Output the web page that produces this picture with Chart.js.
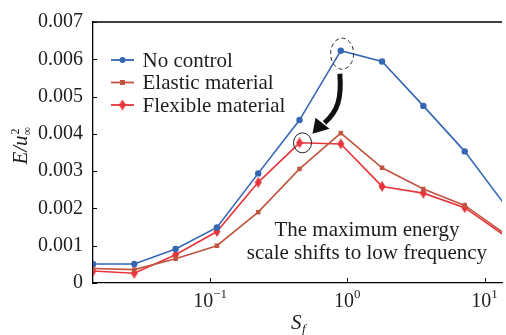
<!DOCTYPE html>
<html>
<head>
<meta charset="utf-8">
<script src="https://cdn.jsdelivr.net/npm/chart.js@4/dist/chart.umd.min.js"></script>
<style>
  html, body { margin: 0; padding: 0; background: #fff; }
  canvas { display: block; }
</style>
</head>
<body>
<canvas id="c" width="506" height="335"></canvas>
<script>
// Strouhal number of the forcing frequency
const sf = [0.014, 0.028, 0.056, 0.112, 0.224, 0.448, 0.896, 1.79, 3.58, 7.17, 14.3];
// Energy E/u_inf^2 for each case
const noControl = [0.00051, 0.00051, 0.00091, 0.00149, 0.00294, 0.00437, 0.00623, 0.00594, 0.00475, 0.00353, 0.00206];
const elastic   = [0.00039, 0.00036, 0.00065, 0.00100, 0.00190, 0.00306, 0.00402, 0.00309, 0.00252, 0.00208, 0.00130];
const flexible  = [0.00032, 0.00026, 0.00076, 0.00138, 0.00270, 0.00376, 0.00373, 0.00259, 0.00241, 0.00202, 0.00125];

const seriesNames = ['No control', 'Elastic material', 'Flexible material'];
const xTickValues = [0.1, 1, 10];
const xTickExponents = ['\u22121', '0', '1'];
const yTickValues = [0, 0.001, 0.002, 0.003, 0.004, 0.005, 0.006, 0.007];
const noteLines = ['The maximum energy', 'scale shifts to low frequency'];

const BLUE = '#3466b3', BROWN = '#c1543f', RED = '#e6363c';
const SERIF = '"Liberation Serif", "Times New Roman", serif';
const INK = '#1e1e1e';

// thin vertical diamond marker
function thinDiamond(color) {
  const cv = document.createElement('canvas');
  cv.width = 8; cv.height = 11;
  const g = cv.getContext('2d');
  g.fillStyle = color;
  g.beginPath();
  g.moveTo(4, 0); g.lineTo(7.5, 5.5); g.lineTo(4, 11); g.lineTo(0.5, 5.5);
  g.closePath(); g.fill();
  return cv;
}
const flexMarker = thinDiamond(RED);

const pts = arr => sf.map((x, i) => ({ x, y: arr[i] }));

const decor = {
  id: 'decor',
  afterDraw(chart) {
    const { ctx, chartArea: a, scales: { x, y } } = chart;
    ctx.save();
    // top frame line
    ctx.strokeStyle = '#000';
    ctx.lineWidth = 1.3;
    ctx.beginPath(); ctx.moveTo(a.left, a.top); ctx.lineTo(a.right, a.top); ctx.stroke();

    // inward ticks
    ctx.lineWidth = 1;
    ctx.beginPath();
    yTickValues.forEach(v => { const py = Math.round(y.getPixelForValue(v)) + 0.5; ctx.moveTo(a.left, py); ctx.lineTo(a.left + 4, py); });
    xTickValues.forEach(v => { const px = Math.round(x.getPixelForValue(v)) + 0.5; ctx.moveTo(px, a.bottom); ctx.lineTo(px, a.bottom - 5); });
    ctx.stroke();

    // x tick labels 10^n
    ctx.fillStyle = INK;
    ctx.textBaseline = 'alphabetic';
    xTickValues.forEach((v, i) => {
      const px = x.getPixelForValue(v);
      ctx.font = '20px ' + SERIF;
      const wb = ctx.measureText('10').width;
      ctx.font = '13px ' + SERIF;
      const we = ctx.measureText(xTickExponents[i]).width;
      const left = px - (wb + we) / 2;
      ctx.font = '20px ' + SERIF;
      ctx.textAlign = 'left';
      ctx.fillText('10', left, 307);
      ctx.font = '13px ' + SERIF;
      ctx.fillText(xTickExponents[i], left + wb, 298);
    });

    // x axis title S_f
    ctx.font = 'italic 21px ' + SERIF;
    ctx.textAlign = 'left';
    ctx.fillText('S', 291, 329);
    ctx.font = 'italic 13px ' + SERIF;
    ctx.fillText('f', 302, 333);

    // y axis title E/u_inf^2
    ctx.save();
    ctx.translate(27, 146);
    ctx.rotate(-Math.PI / 2);
    ctx.font = 'italic 21px ' + SERIF;
    const main = 'E/u';
    const wm = ctx.measureText(main).width;
    const x0 = -(wm + 8) / 2;
    ctx.fillText(main, x0, 0);
    ctx.font = '12px ' + SERIF;
    ctx.fillText('2', x0 + wm + 1, -8);
    ctx.fillText('\u221e', x0 + wm, 4);
    ctx.restore();

    // legend
    const rows = [
      { name: seriesNames[0], color: BLUE, mark: 'circle' },
      { name: seriesNames[1], color: BROWN, mark: 'square' },
      { name: seriesNames[2], color: RED, mark: 'diamond' }
    ];
    rows.forEach((r, i) => {
      const cy = 60 + i * 22.5;
      ctx.strokeStyle = r.color; ctx.fillStyle = r.color; ctx.lineWidth = 1.8;
      ctx.beginPath(); ctx.moveTo(111, cy); ctx.lineTo(134, cy); ctx.stroke();
      if (r.mark === 'circle') { ctx.beginPath(); ctx.arc(122.5, cy, 3, 0, Math.PI * 2); ctx.fill(); }
      else if (r.mark === 'square') { ctx.fillRect(120, cy - 2.5, 5, 5); }
      else { ctx.drawImage(flexMarker, 118.5, cy - 5.5); }
      ctx.fillStyle = INK;
      ctx.font = '21px ' + SERIF;
      ctx.textAlign = 'left'; ctx.textBaseline = 'middle';
      ctx.fillText(r.name, 142.5, cy + 1);
    });

    // highlight of the two peaks
    const p1 = { x: x.getPixelForValue(sf[6]), y: y.getPixelForValue(noControl[6]) };
    const p2 = { x: x.getPixelForValue(sf[5]), y: y.getPixelForValue(flexible[5]) };
    ctx.strokeStyle = '#222'; ctx.lineWidth = 1;
    ctx.setLineDash([4, 3]);
    ctx.beginPath(); ctx.ellipse(p1.x + 1.3, p1.y + 3, 11.5, 15.5, 0, 0, Math.PI * 2); ctx.stroke();
    ctx.setLineDash([]);
    ctx.beginPath(); ctx.ellipse(p2.x + 3, p2.y, 9, 10, 0, 0, Math.PI * 2); ctx.stroke();

    // curved arrow from one peak to the other
    const S = { x: p1.x - 1, y: p1.y + 23 };
    const T = { x: p2.x + 13, y: p2.y - 9 };
    const E = { x: T.x + 12, y: T.y - 11 };
    ctx.strokeStyle = '#111'; ctx.fillStyle = '#111';
    ctx.lineWidth = 5; ctx.lineCap = 'butt';
    ctx.beginPath();
    ctx.moveTo(S.x, S.y);
    ctx.bezierCurveTo(S.x + 2, S.y + 25, E.x + 13, E.y - 11, E.x, E.y);
    ctx.stroke();
    ctx.beginPath();
    ctx.moveTo(T.x, T.y);
    ctx.lineTo(T.x + 3, T.y - 16);
    ctx.lineTo(T.x + 17, T.y - 5);
    ctx.closePath(); ctx.fill();

    // note
    ctx.fillStyle = INK;
    ctx.font = '21px ' + SERIF;
    ctx.textAlign = 'center'; ctx.textBaseline = 'middle';
    const nx = x.getPixelForValue(1.39);
    ctx.fillText(noteLines[0], nx, y.getPixelForValue(0.0014));
    ctx.fillText(noteLines[1], nx, y.getPixelForValue(0.0014) + 23);
    ctx.restore();
  }
};

new Chart(document.getElementById('c'), {
  type: 'line',
  data: {
    datasets: [
      { label: seriesNames[0], data: pts(noControl), borderColor: BLUE, backgroundColor: BLUE,
        borderWidth: 1.6, pointStyle: 'circle', pointRadius: 3.2, pointBorderWidth: 0 },
      { label: seriesNames[1], data: pts(elastic), borderColor: BROWN, backgroundColor: BROWN,
        borderWidth: 1.6, pointStyle: 'rect', pointRadius: 3.2, pointBorderWidth: 0 },
      { label: seriesNames[2], data: pts(flexible), borderColor: RED, backgroundColor: RED,
        borderWidth: 1.6, pointStyle: flexMarker, pointRadius: 4, pointBorderWidth: 0 }
    ]
  },
  options: {
    responsive: false,
    devicePixelRatio: 1,
    animation: false,
    layout: { padding: { top: 18, right: 0, bottom: 0, left: 0 } },
    plugins: { legend: { display: false }, tooltip: { enabled: false } },
    elements: { line: { tension: 0 } },
    scales: {
      x: {
        type: 'logarithmic',
        min: 0.014, max: 13.4,
        grid: { display: false },
        border: { display: true, color: '#000', width: 1.3 },
        ticks: { display: false },
        afterBuildTicks: s => { s.ticks = xTickValues.map(v => ({ value: v })); },
        afterFit: s => { s.height = 52; }
      },
      y: {
        type: 'linear',
        min: 0, max: 0.007,
        grid: { display: false, drawTicks: false },
        border: { display: true, color: '#000', width: 1.3 },
        afterBuildTicks: s => { s.ticks = yTickValues.map(v => ({ value: v })); },
        ticks: {
          padding: 10,
          color: INK,
          font: { family: SERIF, size: 20 },
          callback: v => v === 0 ? '0' : v.toFixed(3)
        },
        afterFit: s => { s.width = 93; }
      }
    }
  },
  plugins: [decor]
});
</script>
</body>
</html>
